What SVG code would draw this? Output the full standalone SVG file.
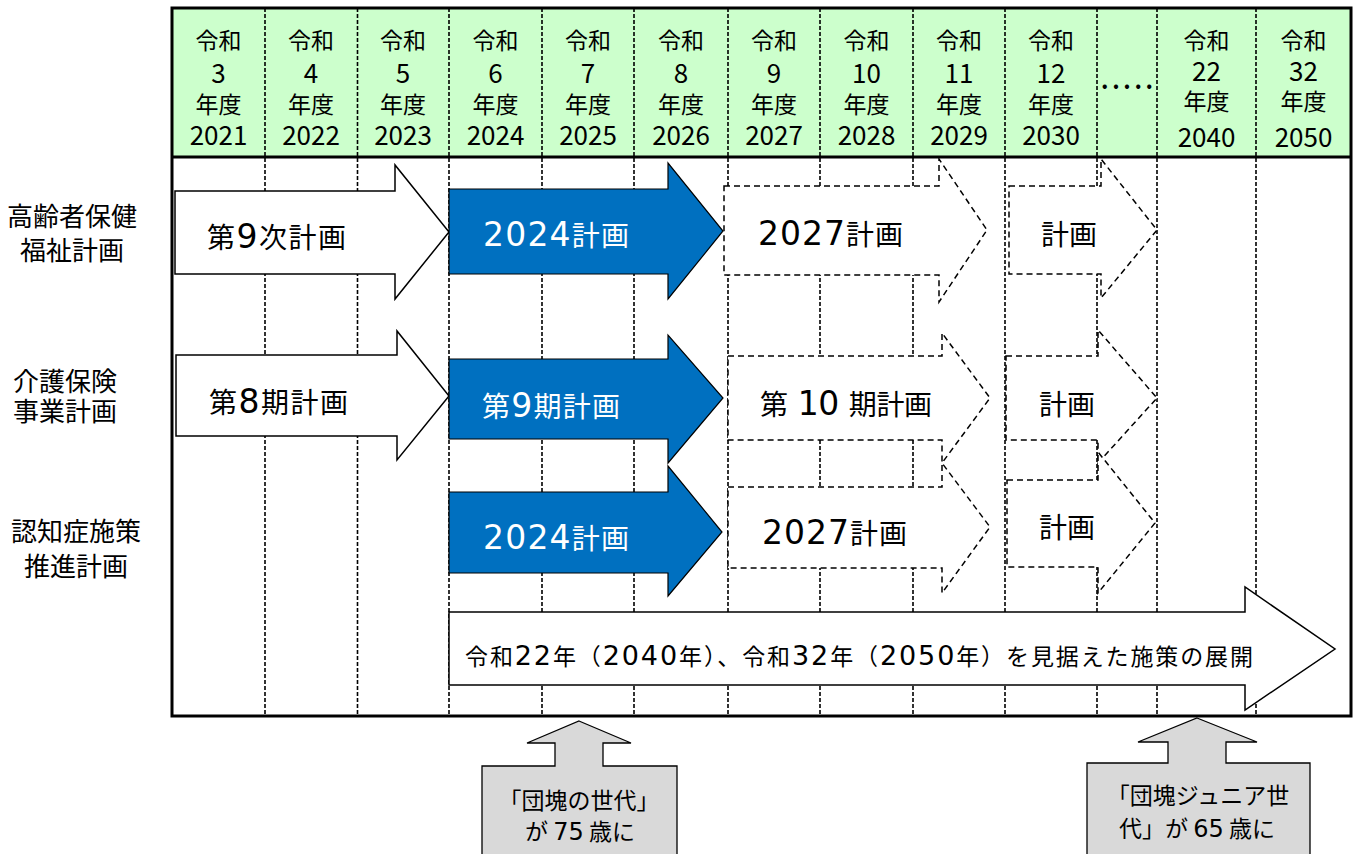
<svg xmlns="http://www.w3.org/2000/svg" width="1354" height="854" viewBox="0 0 1354 854">
<style>
text{font-family:"Noto Sans CJK JP","Noto Sans",sans-serif;fill:#000}
.hd{font-size:23px;text-anchor:middle}
.hn{font-size:26px;text-anchor:middle}
.rl{font-size:26px;text-anchor:middle}
.lbl{font-size:28px}
.wl{font-size:28px;fill:#fff}
.big{font-size:23px}
.co{font-size:23px;text-anchor:middle}
.d{font-family:"DejaVu Sans",sans-serif;font-size:33px}
.db{font-family:"DejaVu Sans",sans-serif;font-size:27px}
.dc{font-family:"DejaVu Sans",sans-serif;font-size:24px}
.grid{stroke:#000;stroke-width:1.6;stroke-dasharray:4 2;fill:none}
.sa{fill:#fff;stroke:#000;stroke-width:1.5}
.ba{fill:#0070C0;stroke:#000;stroke-width:1.2}
.da{fill:#fff;stroke:#000;stroke-width:1.5;stroke-dasharray:6 4}
.cal{fill:#D9D9D9;stroke:#000;stroke-width:1.3}
</style>
<rect x="0" y="0" width="1354" height="854" fill="#fff"/>
<g id="frame-bg">
<rect x="172" y="8" width="1179" height="149" fill="#CCFFCC"/>
<rect x="172" y="157" width="1179" height="559" fill="#fff"/>
</g>
<g id="grid">
<line class="grid" x1="265" y1="8" x2="265" y2="716"/>
<line class="grid" x1="357.5" y1="8" x2="357.5" y2="716"/>
<line class="grid" x1="449" y1="8" x2="449" y2="716"/>
<line class="grid" x1="542" y1="8" x2="542" y2="716"/>
<line class="grid" x1="634" y1="8" x2="634" y2="716"/>
<line class="grid" x1="728" y1="8" x2="728" y2="716"/>
<line class="grid" x1="820" y1="8" x2="820" y2="716"/>
<line class="grid" x1="913" y1="8" x2="913" y2="716"/>
<line class="grid" x1="1005" y1="8" x2="1005" y2="716"/>
<line class="grid" x1="1097" y1="8" x2="1097" y2="716"/>
<line class="grid" x1="1157" y1="8" x2="1157" y2="716"/>
<line class="grid" x1="1256" y1="8" x2="1256" y2="716"/>
</g>
<g id="header">
<text class="hd" x="218.5" y="49">令和</text><text class="hn" x="218.5" y="83">3</text><text class="hd" x="218.5" y="113">年度</text><text class="hn" x="218.5" y="145">2021</text>
<text class="hd" x="311" y="49">令和</text><text class="hn" x="311" y="83">4</text><text class="hd" x="311" y="113">年度</text><text class="hn" x="311" y="145">2022</text>
<text class="hd" x="403" y="49">令和</text><text class="hn" x="403" y="83">5</text><text class="hd" x="403" y="113">年度</text><text class="hn" x="403" y="145">2023</text>
<text class="hd" x="495.5" y="49">令和</text><text class="hn" x="495.5" y="83">6</text><text class="hd" x="495.5" y="113">年度</text><text class="hn" x="495.5" y="145">2024</text>
<text class="hd" x="588" y="49">令和</text><text class="hn" x="588" y="83">7</text><text class="hd" x="588" y="113">年度</text><text class="hn" x="588" y="145">2025</text>
<text class="hd" x="681" y="49">令和</text><text class="hn" x="681" y="83">8</text><text class="hd" x="681" y="113">年度</text><text class="hn" x="681" y="145">2026</text>
<text class="hd" x="774" y="49">令和</text><text class="hn" x="774" y="83">9</text><text class="hd" x="774" y="113">年度</text><text class="hn" x="774" y="145">2027</text>
<text class="hd" x="866.5" y="49">令和</text><text class="hn" x="866.5" y="83">10</text><text class="hd" x="866.5" y="113">年度</text><text class="hn" x="866.5" y="145">2028</text>
<text class="hd" x="959" y="49">令和</text><text class="hn" x="959" y="83">11</text><text class="hd" x="959" y="113">年度</text><text class="hn" x="959" y="145">2029</text>
<text class="hd" x="1051" y="49">令和</text><text class="hn" x="1051" y="83">12</text><text class="hd" x="1051" y="113">年度</text><text class="hn" x="1051" y="145">2030</text>
<text class="hd" x="1127" y="89" font-weight="bold" textLength="52" lengthAdjust="spacing">.....</text>
<text class="hd" x="1206.5" y="49">令和</text><text class="hn" x="1206.5" y="81">22</text><text class="hd" x="1206.5" y="110">年度</text><text class="hn" x="1206.5" y="147">2040</text>
<text class="hd" x="1303.5" y="49">令和</text><text class="hn" x="1303.5" y="81">32</text><text class="hd" x="1303.5" y="110">年度</text><text class="hn" x="1303.5" y="147">2050</text>
</g>
<g id="row-labels">
<text class="rl" x="72" y="226">高齢者保健</text><text class="rl" x="72" y="260">福祉計画</text>
<text class="rl" x="65" y="391">介護保険</text><text class="rl" x="65" y="421">事業計画</text>
<text class="rl" x="76" y="541">認知症施策</text><text class="rl" x="76" y="576">推進計画</text>
</g>
<g id="connectors">
<g id="arrow-r1-9th">
<path class="sa" d="M175,191 H395 V165 L449,232 L395,299 V274 H175 Z"/>
<text class="lbl" x="207" y="248" textLength="139">第<tspan class="d">9</tspan>次計画</text>
</g>
<g id="arrow-r1-2024">
<path class="ba" d="M449,189 H668 V163 L723,231 L668,299 V274 H449 Z"/>
<text class="wl" x="483" y="246" textLength="146"><tspan class="d">2024</tspan>計画</text>
</g>
<g id="arrow-r1-2027">
<path class="da" d="M724,186 H939 V159 L987,230 L939,302 V275 H724 Z"/>
<text class="lbl" x="758" y="245" textLength="145"><tspan class="d">2027</tspan>計画</text>
</g>
<g id="arrow-r1-next">
<path class="da" d="M1009,186 H1101 V159 L1157,230 L1101,298 V274 H1009 Z"/>
<text class="lbl" x="1041" y="245">計画</text>
</g>
<g id="arrow-r2-8th">
<path class="sa" d="M176,355 H397 V331 L449,396 L397,460 V436 H176 Z"/>
<text class="lbl" x="209" y="413" textLength="139">第<tspan class="d">8</tspan>期計画</text>
</g>
<g id="arrow-r2-9th">
<path class="ba" d="M449,359 H668 V335 L723,398 L668,463 V439 H449 Z"/>
<text class="wl" x="482" y="417" textLength="138">第<tspan class="d">9</tspan>期計画</text>
</g>
<g id="arrow-r2-10th">
<path class="da" d="M728,356 H942 V333 L990,398 L942,463 V440 H728 Z"/>
<text class="lbl" x="760" y="415" textLength="172">第<tspan class="d"> 10 </tspan>期計画</text>
</g>
<g id="arrow-r2-next">
<path class="da" d="M1006,356 H1098 V330 L1157,398 L1098,463 V440 H1006 Z"/>
<text class="lbl" x="1039" y="415">計画</text>
</g>
<g id="arrow-r3-2024">
<path class="ba" d="M449,492 H668 V466 L722,532 L668,596 V573 H449 Z"/>
<text class="wl" x="483" y="549" textLength="146"><tspan class="d">2024</tspan>計画</text>
</g>
<g id="arrow-r3-2027">
<path class="da" d="M728,487 H942 V463 L990,527 L942,593 V568 H728 Z"/>
<text class="lbl" x="762" y="544" textLength="145"><tspan class="d">2027</tspan>計画</text>
</g>
<g id="arrow-r3-next">
<path class="da" d="M1007,480 H1098 V452 L1155,523 L1098,593 V567 H1007 Z"/>
<text class="lbl" x="1039" y="538">計画</text>
</g>
<g id="arrow-future">
<path class="sa" d="M449,612 H1245 V587 L1335,649 L1245,710 V685 H449 Z"/>
<text class="big" x="465" y="665" textLength="788">令和<tspan class="db">22</tspan>年（<tspan class="db">2040</tspan>年）、令和<tspan class="db">32</tspan>年（<tspan class="db">2050</tspan>年）を見据えた施策の展開</text>
</g>
</g>
<g id="frame">
<rect x="172" y="8" width="1179" height="708" fill="none" stroke="#000" stroke-width="3"/>
<line x1="172" y1="157" x2="1351" y2="157" stroke="#000" stroke-width="3"/>
</g>
<g id="callout-2025">
<path class="cal" d="M579,721 L631,743 H603 V766 H677 V858 H482 V766 H555 V743 H527 Z"/>
<text class="co" x="579" y="809">「団塊の世代」</text>
<text class="co" x="580" y="840">が <tspan class="dc">75</tspan> 歳に</text>
</g>
<g id="callout-2040">
<path class="cal" d="M1197,718 L1257,742 H1226 V763 H1310 V858 H1087 V763 H1168 V742 H1138 Z"/>
<text class="co" x="1198" y="804">「団塊ジュニア世</text>
<text class="co" x="1197" y="837">代」が <tspan class="dc">65</tspan> 歳に</text>
</g>
</svg>
